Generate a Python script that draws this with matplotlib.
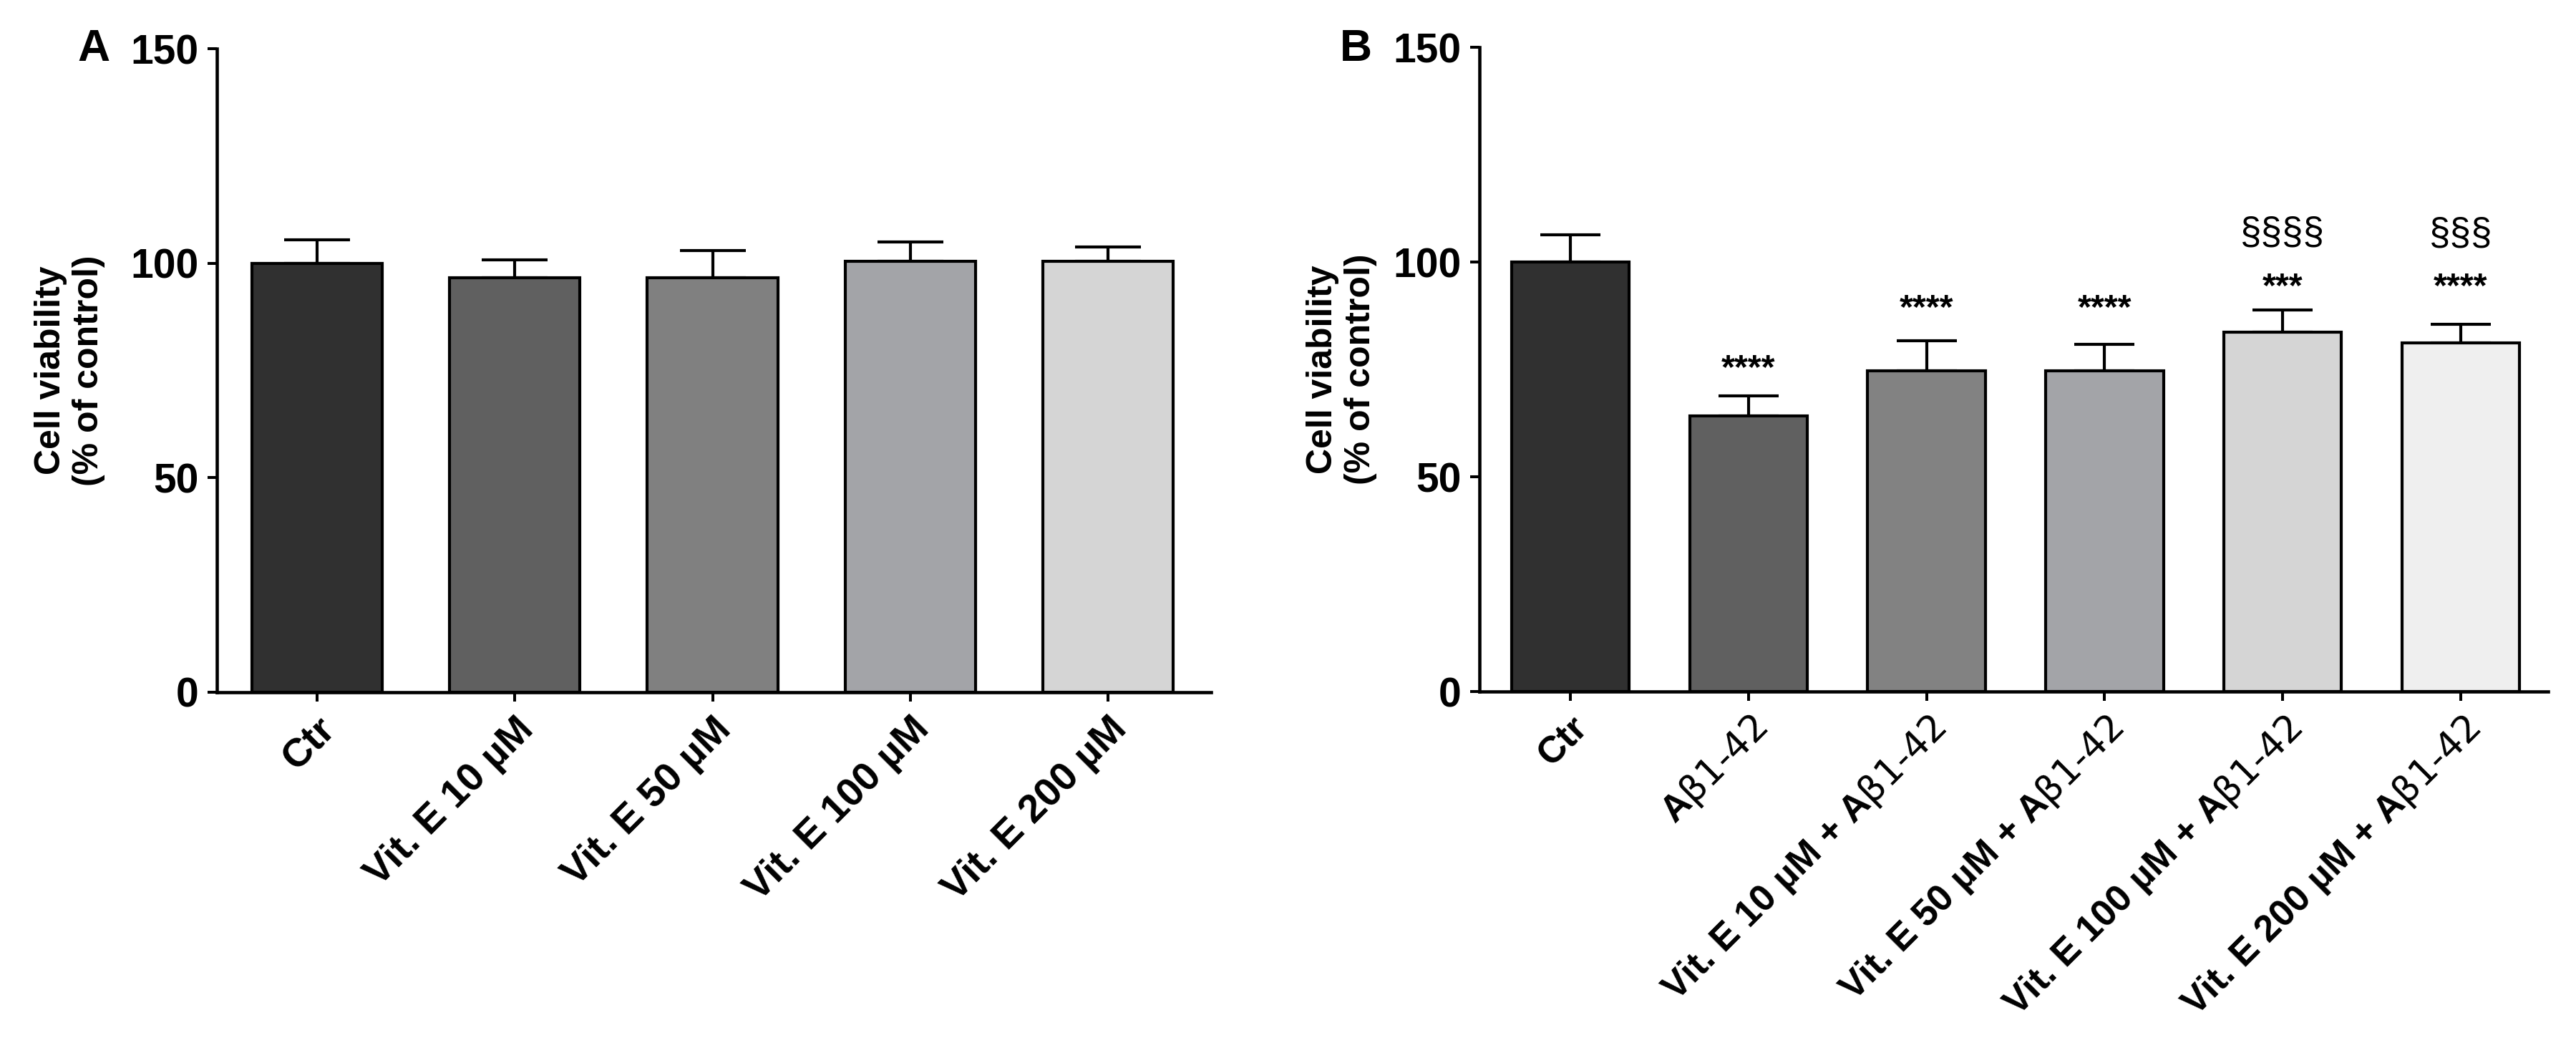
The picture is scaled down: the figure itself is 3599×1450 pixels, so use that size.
import matplotlib
matplotlib.use('Agg')
import matplotlib.pyplot as plt
import numpy as np

# fonts
narrow = ['Liberation Sans Narrow', 'Liberation Sans', 'DejaVu Sans']
plain = ['Liberation Sans', 'DejaVu Sans']
plt.rcParams['font.family'] = narrow
plt.rcParams['mathtext.fontset'] = 'custom'
plt.rcParams['mathtext.rm'] = 'Liberation Sans Narrow'
plt.rcParams['mathtext.it'] = 'Liberation Sans Narrow:italic'
plt.rcParams['mathtext.bf'] = 'Liberation Sans Narrow:bold'

# panel A data
labels_a = ['Ctr', 'Vit. E 10 µM', 'Vit. E 50 µM', 'Vit. E 100 µM', 'Vit. E 200 µM']
means_a = [100.0, 96.6, 96.6, 100.5, 100.5]
sem_a = [5.5, 4.2, 6.3, 4.4, 3.2]
colors_a = ['#303030', '#606060', '#808080', '#a3a4a8', '#d5d5d5']

# panel B data
ab = r'A$\mathrm{β1\text{-}42}$'
labels_b = ['Ctr', ab, 'Vit. E 10 µM + ' + ab, 'Vit. E 50 µM + ' + ab,
            'Vit. E 100 µM + ' + ab, 'Vit. E 200 µM + ' + ab]
means_b = [100.0, 64.2, 74.7, 74.7, 83.7, 81.2]
sem_b = [6.3, 4.6, 7.0, 6.1, 5.1, 4.3]
colors_b = ['#303030', '#606060', '#828282', '#a3a4a8', '#d5d5d5', '#efefef']

# significance marks (vs Ctr and vs Abeta) and their heights
stars_b = ['', '****', '****', '****', '***', '****']
stars_y = [0, 73.0, 87.0, 87.0, 92.0, 92.0]
sect_b = ['', '', '', '', '§§§§', '§§§']
sect_y = [0, 0, 0, 0, 104.3, 104.0]

W, H = 3599, 1450
fig = plt.figure(figsize=(W / 100.0, H / 100.0), dpi=100)

ax_a = fig.add_axes([303 / W, 1 - 967 / H, (1692 - 303) / W, (967 - 68) / H])
ax_b = fig.add_axes([2067 / W, 1 - 966 / H, (3560 - 2067) / W, (966 - 66) / H])


def draw_panel(ax, labels, means, sem, colors, xlim, capsize, ylab_x, xfs):
    x = np.arange(len(means))
    ax.bar(x, means, width=0.66, color=colors, edgecolor='black', linewidth=3, zorder=2)
    ax.errorbar(x, means, yerr=[np.zeros(len(sem)), sem], fmt='none', ecolor='black',
                elinewidth=3, capsize=capsize, capthick=3, zorder=1)
    ax.set_xlim(*xlim)
    ax.set_ylim(0, 150)
    ax.set_yticks([0, 50, 100, 150])
    ax.set_xticks(x)
    ax.set_xticklabels(labels, rotation=45, ha='right', va='top', rotation_mode='anchor',
                       fontsize=xfs, fontweight='bold')
    for t in ax.get_yticklabels():
        t.set_fontsize(41)
        t.set_fontweight('bold')
    for s in ['top', 'right']:
        ax.spines[s].set_visible(False)
    ax.spines['left'].set_linewidth(3.3)
    ax.spines['bottom'].set_linewidth(3.3)
    ax.tick_params(axis='both', length=9.5, width=2.9, pad=9)
    ax.set_ylabel('Cell viability\n(% of control)', family=plain, fontsize=36,
                  fontweight='bold')
    ax.yaxis.set_label_coords(ylab_x, 0.5)
    ax.yaxis.label.set_verticalalignment('center')


draw_panel(ax_a, labels_a, means_a, sem_a, colors_a, (-0.506, 4.52), 33, -0.148, 40)
draw_panel(ax_b, labels_b, means_b, sem_b, colors_b, (-0.51, 5.49), 30, -0.129, 37.5)

for i in range(len(means_b)):
    if stars_b[i]:
        ax_b.text(i, stars_y[i], stars_b[i], ha='center', va='baseline', family=plain,
                  fontsize=35, fontweight='bold')
    if sect_b[i]:
        ax_b.text(i, sect_y[i], sect_b[i], ha='center', va='baseline', fontsize=38)

fig.text(131 / W, 1 - 85 / H, 'A', ha='center', va='baseline', fontsize=45, fontweight='bold')
fig.text(1894 / W, 1 - 85 / H, 'B', ha='center', va='baseline', fontsize=45, fontweight='bold')

fig.savefig('out.png', dpi=100)
